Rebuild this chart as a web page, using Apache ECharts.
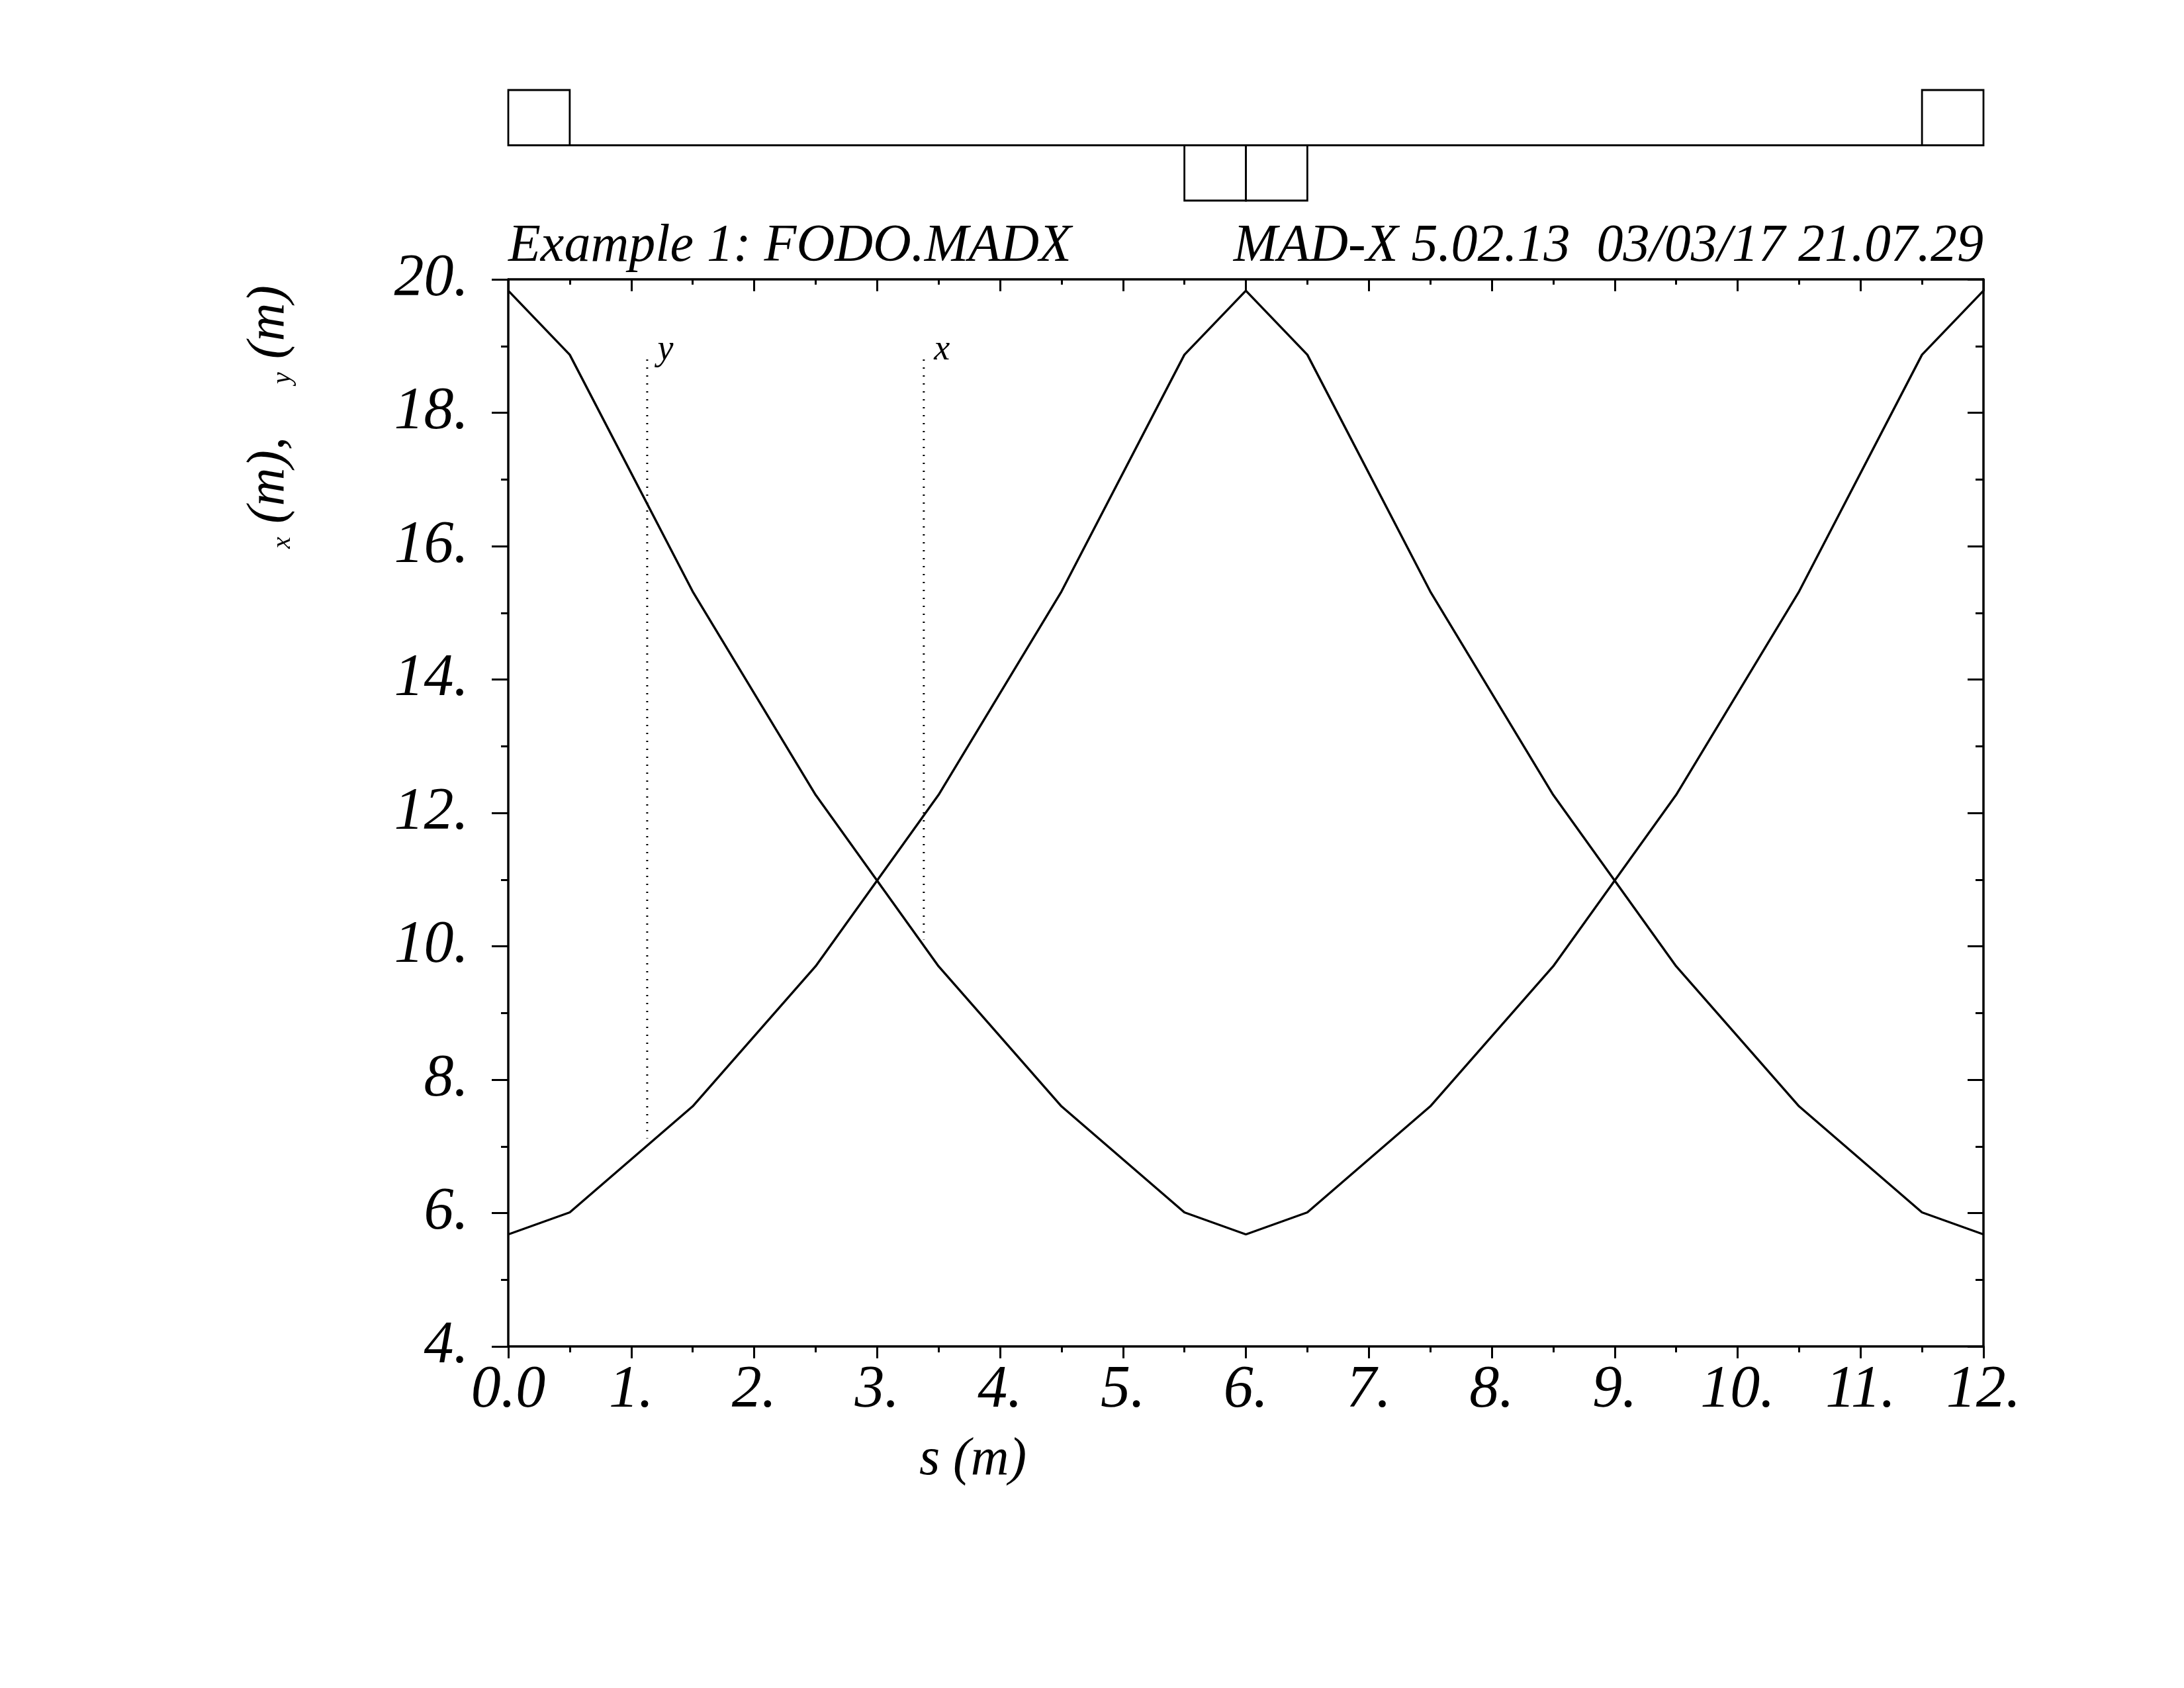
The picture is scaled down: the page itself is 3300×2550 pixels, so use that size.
<!DOCTYPE html>
<html>
<head>
<meta charset="utf-8">
<title>FODO twiss</title>
<script src="https://cdn.jsdelivr.net/npm/echarts@6/dist/echarts.min.js"></script>
<style>
html, body { margin: 0; padding: 0; background: #fff; }
#chart { width: 3300px; height: 2550px; }
</style>
</head>
<body>
<div id="chart"></div>
<script>
// twiss data
var sPos = [0, 0.5, 1.5, 2.5, 3.5, 4.5, 5.5, 6.0, 6.5, 7.5, 8.5, 9.5, 10.5, 11.5, 12.0]
var betx = [19.83, 18.87, 15.32, 12.27, 9.70, 7.60, 6.01, 5.68, 6.01, 7.60, 9.70, 12.27, 15.32, 18.87, 19.83]
var bety = [5.68, 6.01, 7.60, 9.70, 12.27, 15.32, 18.87, 19.83, 18.87, 15.32, 12.27, 9.70, 7.60, 6.01, 5.68]

// curve annotation markers
var markNames = ['y', 'x']
var markS = [1.13, 3.38]
var markTop = [18.8, 18.8]
var markBottom = [7.12, 10.1]

// lattice layout (quadrupoles)
var quadStart = [0, 5.5, 6.0, 11.5]
var quadEnd = [0.5, 6.0, 6.5, 12.0]
var quadSign = [1, -1, -1, 1]

// tick labels
var sTicks = [0, 1, 2, 3, 4, 5, 6, 7, 8, 9, 10, 11, 12]
var sTickLabels = ['0.0', '1.', '2.', '3.', '4.', '5.', '6.', '7.', '8.', '9.', '10.', '11.', '12.']
var betaTicks = [4, 6, 8, 10, 12, 14, 16, 18, 20]
var betaTickLabels = ['4.', '6.', '8.', '10.', '12.', '14.', '16.', '18.', '20.']

var FONT = 'Liberation Serif'
var black = '#000'
var AXW = 3.5

function pairs (xs, ys) {
  return xs.map(function (x, i) { return [x, ys[i]] })
}

var chart = echarts.init(document.getElementById('chart'), null, { renderer: 'canvas' })

var series = [
  {
    type: 'line',
    xAxisIndex: 0,
    yAxisIndex: 0,
    data: pairs(sPos, betx),
    symbol: 'none',
    lineStyle: { color: black, width: 3.4 },
    animation: false
  },
  {
    type: 'line',
    xAxisIndex: 0,
    yAxisIndex: 0,
    data: pairs(sPos, bety),
    symbol: 'none',
    lineStyle: { color: black, width: 3.4 },
    animation: false
  }
]

// dotted marker lines with their small labels
markNames.forEach(function (name, i) {
  series.push({
    type: 'line',
    xAxisIndex: 0,
    yAxisIndex: 0,
    symbol: 'circle',
    symbolSize: 1,
    showSymbol: true,
    itemStyle: { color: 'rgba(0,0,0,0)' },
    lineStyle: { color: black, width: 3, type: [2, 10] },
    data: [
      {
        value: [markS[i], markTop[i]],
        label: {
          show: true,
          formatter: name,
          position: 'right',
          distance: 0,
          offset: [15, -14],
          fontFamily: FONT,
          fontStyle: 'italic',
          fontSize: 54,
          color: black
        }
      },
      [markS[i], markBottom[i]]
    ],
    animation: false
  })
})

// beam line + quadrupole boxes
series.push({
  type: 'line',
  xAxisIndex: 2,
  yAxisIndex: 2,
  symbol: 'none',
  data: [[0, 0], [12, 0]],
  lineStyle: { color: black, width: 3 },
  animation: false
})
series.push({
  type: 'custom',
  xAxisIndex: 2,
  yAxisIndex: 2,
  clip: false,
  data: quadStart.map(function (s, i) { return [s, quadEnd[i], quadSign[i]] }),
  renderItem: function (params, api) {
    var p0 = api.coord([api.value(0), 0])
    var p1 = api.coord([api.value(1), api.value(2)])
    return {
      type: 'rect',
      shape: {
        x: p0[0],
        y: Math.min(p0[1], p1[1]),
        width: p1[0] - p0[0],
        height: Math.abs(p1[1] - p0[1])
      },
      style: { fill: 'none', stroke: black, lineWidth: 2.8 }
    }
  },
  animation: false
})

var tickFont = { fontFamily: FONT, fontStyle: 'italic', fontSize: 90, color: black }

var option = {
  backgroundColor: '#fff',
  animation: false,
  textStyle: { fontFamily: FONT },
  grid: [
    { left: 768, right: 303, top: 422, bottom: 516, outerBoundsMode: 'none', containLabel: false },
    { left: 768, right: 303, top: 136, height: 167, outerBoundsMode: 'none', containLabel: false }
  ],
  xAxis: [
    {
      type: 'value',
      gridIndex: 0,
      position: 'bottom',
      min: 0,
      max: 12,
      interval: 1,
      axisLine: { show: true, onZero: false, lineStyle: { color: black, width: AXW } },
      axisTick: { show: true, length: 18, lineStyle: { color: black, width: 3 } },
      minorTick: { show: true, splitNumber: 2, length: 9, lineStyle: { color: black, width: 3 } },
      splitLine: { show: false },
      minorSplitLine: { show: false },
      axisLabel: Object.assign({
        margin: 22,
        formatter: function (v) {
          var k = sTicks.indexOf(Math.round(v))
          return k >= 0 ? sTickLabels[k] : ''
        }
      }, tickFont)
    },
    {
      type: 'value',
      gridIndex: 0,
      position: 'top',
      min: 0,
      max: 12,
      interval: 1,
      axisLine: { show: true, onZero: false, lineStyle: { color: black, width: AXW } },
      axisTick: { show: true, inside: true, length: 18, lineStyle: { color: black, width: 3 } },
      minorTick: { show: true, splitNumber: 2, length: 8, lineStyle: { color: black, width: 3 } },
      splitLine: { show: false },
      axisLabel: { show: false }
    },
    {
      type: 'value',
      gridIndex: 1,
      min: 0,
      max: 12,
      show: false
    }
  ],
  yAxis: [
    {
      type: 'value',
      gridIndex: 0,
      position: 'left',
      min: 4,
      max: 20,
      interval: 2,
      axisLine: { show: true, onZero: false, lineStyle: { color: black, width: AXW } },
      axisTick: { show: true, length: 25, lineStyle: { color: black, width: 3 } },
      minorTick: { show: true, splitNumber: 2, length: 11, lineStyle: { color: black, width: 3 } },
      splitLine: { show: false },
      minorSplitLine: { show: false },
      axisLabel: Object.assign({
        margin: 60,
        formatter: function (v) {
          var k = betaTicks.indexOf(Math.round(v))
          return k >= 0 ? betaTickLabels[k] : ''
        }
      }, tickFont)
    },
    {
      type: 'value',
      gridIndex: 0,
      position: 'right',
      min: 4,
      max: 20,
      interval: 2,
      axisLine: { show: true, onZero: false, lineStyle: { color: black, width: AXW } },
      axisTick: { show: true, inside: true, length: 24, lineStyle: { color: black, width: 3 } },
      minorTick: { show: true, splitNumber: 2, length: 12, lineStyle: { color: black, width: 3 } },
      splitLine: { show: false },
      axisLabel: { show: false }
    },
    {
      type: 'value',
      gridIndex: 1,
      min: -1,
      max: 1,
      show: false
    }
  ],
  graphic: [
    {
      type: 'text',
      x: 768,
      y: 373,
      style: {
        text: 'Example 1: FODO.MADX',
        fontFamily: FONT,
        fontStyle: 'italic',
        fontSize: 80,
        fill: black,
        align: 'left',
        verticalAlign: 'middle'
      }
    },
    {
      type: 'text',
      x: 2997,
      y: 373,
      style: {
        text: 'MAD-X 5.02.13  03/03/17 21.07.29',
        fontFamily: FONT,
        fontStyle: 'italic',
        fontSize: 80,
        fill: black,
        align: 'right',
        verticalAlign: 'middle'
      }
    },
    {
      type: 'text',
      x: 1470,
      y: 2206,
      style: {
        text: 's (m)',
        fontFamily: FONT,
        fontStyle: 'italic',
        fontSize: 80,
        fill: black,
        align: 'center',
        verticalAlign: 'middle'
      }
    },
    {
      type: 'text',
      x: 407,
      y: 630,
      rotation: Math.PI / 2,
      style: {
        text: '{s|x}{b| (m),    }{s|y}{b| (m)}',
        fill: black,
        align: 'center',
        verticalAlign: 'middle',
        rich: {
          b: { fontFamily: FONT, fontStyle: 'italic', fontSize: 80, lineHeight: 80, fill: black },
          s: { fontFamily: FONT, fontStyle: 'italic', fontSize: 40, lineHeight: 40, fill: black, verticalAlign: 'bottom' }
        }
      }
    }
  ],
  series: series
}

chart.setOption(option)
</script>
</body>
</html>
